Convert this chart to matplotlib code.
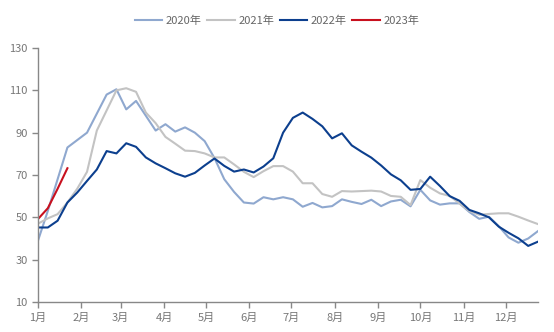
import numpy as np
import matplotlib
matplotlib.use("Agg")
import matplotlib.pyplot as plt

plt.rcParams["font.family"] = ["Noto Sans CJK SC", "DejaVu Sans"]
plt.rcParams["axes.unicode_minus"] = False

# 周度数据，每年52周
y2020 = [39, 53, 68, 83, 86.5, 90, 99, 108, 110.5, 101, 105, 98, 91, 94, 90.5, 92.5,
         90, 86, 78, 68, 62, 57, 56.5, 59.5, 58.5, 59.5, 58.5, 55, 56.8, 54.7, 55.3, 58.5,
         57.3, 56.3, 58.3, 55.3, 57.5, 58.3, 55.2, 63, 58, 56, 56.6, 56.6, 52.5, 49.3,
         50.3, 45.8, 40.5, 38, 40, 43.5]
y2021 = [47, 49.5, 51.5, 57, 63.5, 71.5, 91, 100.5, 110, 111, 109.3, 99.5, 94.5, 88,
         84.8, 81.5, 81.3, 80.2, 78.3, 78.3, 75, 71.5, 69, 71.8, 74.2, 74.2, 71.6, 66.1,
         66.1, 61, 59.7, 62.4, 62.2, 62.4, 62.6, 62.2, 60.1, 59.7, 55.8, 67.6, 64, 61.3,
         60.1, 56.5, 53, 51.2, 51.6, 51.9, 51.9, 50.3, 48.5, 46.8]
y2022 = [45.2, 45.2, 48.4, 57, 61.7, 67.2, 72.6, 81.3, 80.2, 85, 83.3, 78.3, 75.5, 73.2,
         70.8, 69.2, 71, 74.5, 77.8, 74.3, 71.6, 72.6, 71.2, 74, 77.9, 90, 97, 99.5, 96.5,
         93, 87.3, 89.7, 84, 81, 78.2, 74.5, 70.3, 67.5, 63, 63.4, 69.2, 64.8, 60, 57.8,
         53.5, 51.9, 50, 45.6, 42.7, 40.1, 36.5, 38.5]
y2023 = [49.2, 54.3, 63.5, 73.2]

months = ["1月", "2月", "3月", "4月", "5月", "6月", "7月", "8月", "9月", "10月", "11月", "12月"]
month_start = [0, 31, 59, 90, 120, 151, 181, 212, 243, 273, 304, 334]

series = [("2020年", y2020, "#8fa8cf"),
          ("2021年", y2021, "#c3c3c3"),
          ("2022年", y2022, "#0c3f8e"),
          ("2023年", y2023, "#c8101e")]

fig = plt.figure(figsize=(5.54, 3.32), dpi=100)
ax = fig.add_axes([0.0686, 0.0904, 0.9025, 0.765])

for name, ys, c in series:
    days = np.arange(len(ys)) * 7
    ax.plot(days, ys, color=c, lw=1.5, label=name)

ax.set_xlim(0, 357)
ax.set_ylim(10, 130)
ax.set_yticks(range(10, 131, 20))
ax.set_xticks(month_start)
ax.set_xticklabels(months)

for s in ["top", "right"]:
    ax.spines[s].set_visible(False)
for s in ["left", "bottom"]:
    ax.spines[s].set_color("#888888")
    ax.spines[s].set_linewidth(1)
ax.tick_params(colors="#888888", labelcolor="#777777", labelsize=8, length=4, width=1)

fig.legend(loc="center", bbox_to_anchor=(0.5, 0.938), ncol=4, frameon=False,
           fontsize=8, handlelength=2.5, handletextpad=0.3, columnspacing=0.5,
           labelcolor="#666666")

fig.savefig("out.png", dpi=100)
